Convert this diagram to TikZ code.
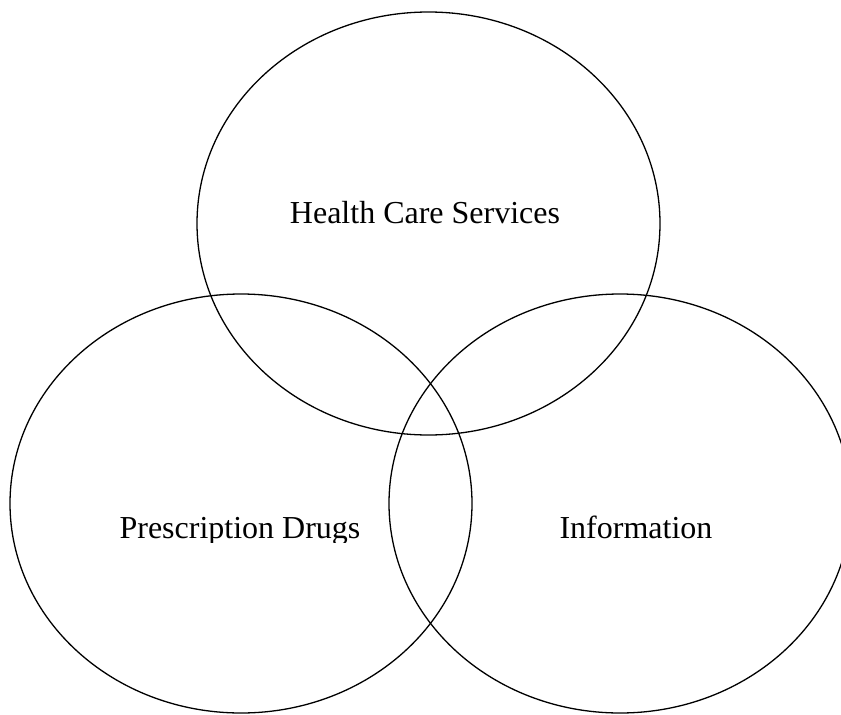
\documentclass[tikz,border=0pt]{standalone}
\usepackage{fontspec}
\setmainfont{Liberation Serif}
\begin{document}
\begin{tikzpicture}[x=1pt,y=-1pt,
  venn/.style={draw=black, line width=1.3pt},
  lbl/.style={font=\fontsize{32}{38}\selectfont, anchor=base, inner sep=0pt}]
\useasboundingbox (0,0) rectangle (841,715);
\clip (0,0) rectangle (841,715);
\draw[venn] (428.5,223.5) ellipse [x radius=231.5pt, y radius=211.5pt];
\draw[venn] (241,503.5) ellipse [x radius=231pt, y radius=209.5pt];
\draw[venn] (620,503.5) ellipse [x radius=231pt, y radius=209.5pt];
\node[lbl] (hcs) at (425,223) {Health Care Services};
\begin{scope}
\clip (0,0) rectangle (841,542.5);
\node[lbl] (pd) at (240,538) {Prescription Drugs};
\node[lbl] (inf) at (636,538) {Information};
\end{scope}
\end{tikzpicture}
\end{document}
